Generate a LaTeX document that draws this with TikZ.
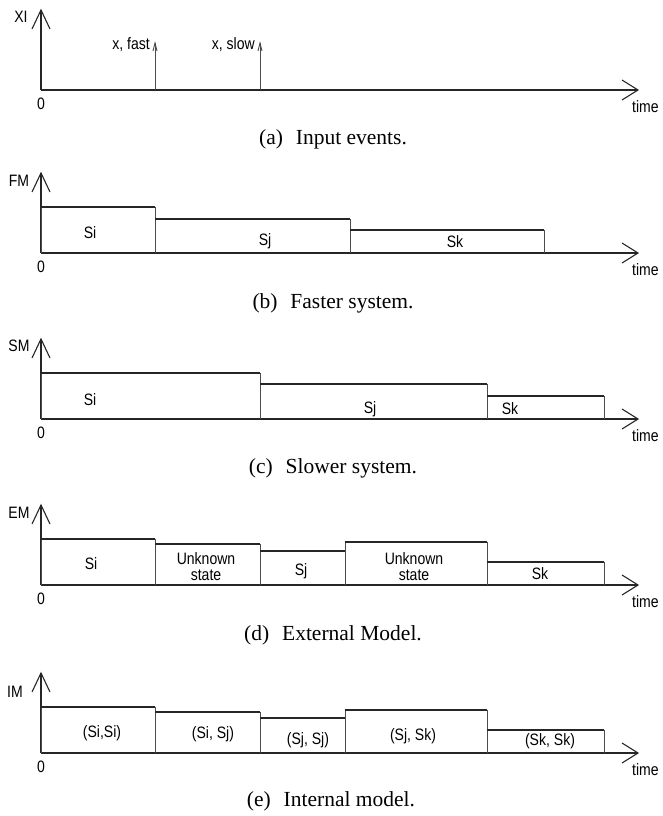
\documentclass[tikz,border=0pt]{standalone}
\usepackage{fontspec}
\setmainfont{Liberation Serif}
\newfontfamily\lab[FakeStretch=0.85]{Liberation Sans}
\tikzset{
  axis/.style={line width=1.1pt, draw=black!85},
  side/.style={line width=0.9pt, draw=black!70},
  topl/.style={line width=1.5pt, draw=black!85},
  lbl/.style={font=\lab\fontsize{16.5}{17}\selectfont, inner sep=0pt},
  captext/.style={font=\fontsize{21.5}{24}\selectfont, inner sep=0pt},
}
\newcommand\stbox[4]{% x1 x2 top axis
  \draw[side] (#1,#4) -- (#1,#3);
  \draw[side] (#2,#4) -- (#2,#3);
  \draw[topl] (#1,#3) -- (#2,#3);}
\newcommand\panel[2]{% axis y, name suffix
  \coordinate (o#2) at (41,#1);
  \coordinate (y#2) at (41,#1-80);
  \coordinate (t#2) at (638,#1);
  \draw[axis] (o#2) -- (y#2);
  \draw[axis] (y#2) ++(-9,19) -- (y#2) -- ++(9,19);
  \draw[axis] (o#2) -- (t#2);
  \draw[axis] (t#2) ++(-16,-10) -- (t#2) -- ++(-16,10);
  \node[lbl] (zero#2) at (41,#1+14) {0};
  \node[lbl, anchor=west] (time#2) at (632,#1+17) {time};
}
\begin{document}
\begin{tikzpicture}[x=1pt,y=-1pt]
\useasboundingbox (0,0) rectangle (662,816);
\begin{scope}
\clip (0,0) rectangle (662,816);
% ---------- (a)
\panel{90}{a}
\node[lbl] (XI) at (21,17) {XI};
\coordinate (ef) at (155,90); \coordinate (efh) at (155,43);
\coordinate (es) at (260,90); \coordinate (esh) at (260,43);
\draw[side] (ef) -- (efh);
\draw[side] (efh) ++(-2,8) -- (efh) -- ++(2,8);
\draw[side] (es) -- (esh);
\draw[side] (esh) ++(-2,8) -- (esh) -- ++(2,8);
\node[lbl, anchor=east] (xfast) at (150,45) {x, fast};
\node[lbl, anchor=east] (xslow) at (255,45) {x, slow};
\node[captext] (capa) at (333,139) {(a)\hspace{0.6em}Input events.};
% ---------- (b)
\panel{253}{b}
\node[lbl] (FM) at (19,181) {FM};
\stbox{41}{155}{207}{253}
\stbox{155}{350}{219}{253}
\stbox{350}{544}{230}{253}
\node[lbl] (bSi) at (90,233) {Si};
\node[lbl] (bSj) at (265,241) {Sj};
\node[lbl] (bSk) at (455,242) {Sk};
\node[captext] (capb) at (333,303) {(b)\hspace{0.6em}Faster system.};
% ---------- (c)
\panel{419}{c}
\node[lbl] (SM) at (19,346) {SM};
\stbox{41}{260}{373}{419}
\stbox{260}{487}{384}{419}
\stbox{487}{604}{396}{419}
\node[lbl] (cSi) at (90,400) {Si};
\node[lbl] (cSj) at (370,409) {Sj};
\node[lbl] (cSk) at (510,409) {Sk};
\node[captext] (capc) at (333,468) {(c)\hspace{0.6em}Slower system.};
% ---------- (d)
\panel{585}{d}
\node[lbl] (EM) at (19,513) {EM};
\stbox{41}{155}{539}{585}
\stbox{155}{260}{544}{585}
\stbox{260}{345}{551}{585}
\stbox{345}{487}{542}{585}
\stbox{487}{604}{562}{585}
\node[lbl] (dSi) at (91,564) {Si};
\node[lbl, align=center] (dU1) at (206,567) {Unknown\\[-1pt]state};
\node[lbl] (dSj) at (301,571) {Sj};
\node[lbl, align=center] (dU2) at (414,567) {Unknown\\[-1pt]state};
\node[lbl] (dSk) at (540,574) {Sk};
\node[captext] (capd) at (333,635) {(d)\hspace{0.6em}External Model.};
% ---------- (e)
\panel{753}{e}
\node[lbl] (IM) at (15,692) {IM};
\stbox{41}{155}{707}{753}
\stbox{155}{260}{712}{753}
\stbox{260}{345}{718}{753}
\stbox{345}{487}{710}{753}
\stbox{487}{604}{730}{753}
\node[lbl] (e1) at (102,733) {(Si,Si)};
\node[lbl] (e2) at (213,734) {(Si, Sj)};
\node[lbl] (e3) at (308,740) {(Sj, Sj)};
\node[lbl] (e4) at (413,736) {(Sj, Sk)};
\node[lbl] (e5) at (550,741) {(Sk, Sk)};
\node[captext] (cape) at (331,801) {(e)\hspace{0.6em}Internal model.};
\end{scope}
\end{tikzpicture}
\end{document}
